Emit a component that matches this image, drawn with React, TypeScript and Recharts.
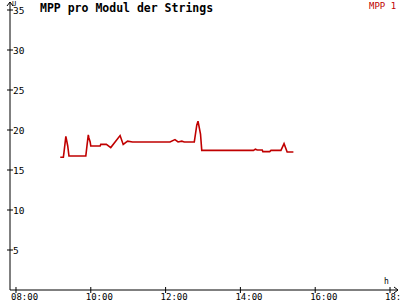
import React from 'react';
import { LineChart, Line, XAxis, YAxis } from 'recharts';

// minutes since midnight
const times = [
  551, 556, 557, 560, 563, 565, 592, 594, 596, 597, 599, 600, 615, 616, 625, 632, 647, 652, 659, 667,
  727, 735, 740, 746, 750, 766, 770, 772, 776, 778, 861, 864, 867, 875, 876, 887, 889, 905, 910, 915, 925,
];
const mppValues = [
  16.6, 16.6, 17.2, 19.2, 18.0, 16.75, 16.75, 18.1, 19.4, 19.0, 18.5, 18.0, 18.0, 18.2, 18.2, 17.8, 19.3, 18.2, 18.6, 18.5,
  18.5, 18.8, 18.5, 18.6, 18.5, 18.5, 20.6, 21.1, 19.5, 17.45, 17.45, 17.6, 17.5, 17.5, 17.3, 17.3, 17.45, 17.45, 18.3, 17.25, 17.25,
];
const xTicks = [480, 600, 720, 840, 960, 1080];
const yTicks = [5, 10, 15, 20, 25, 30, 35];

const data = times.map((t, i) => ({ t, v: mppValues[i] }));

const FONT = '"DejaVu Sans Mono", monospace';
const RED = '#c00000';

const fmt = (m: number) =>
  String(Math.floor(m / 60)).padStart(2, '0') + ':' + String(m % 60).padStart(2, '0');

const YTick = (props: any) => {
  const { x, y, payload } = props;
  return (
    <g>
      <line x1={x - 3} x2={x + 3} y1={y} y2={y} stroke="#000" />
      <text x={x + 3} y={y + 3.5} fontSize={9.5} fontFamily={FONT} fill="#000">
        {payload.value}
      </text>
    </g>
  );
};

const XTick = (props: any) => {
  const { x, y, payload } = props;
  return (
    <g>
      <line x1={x} x2={x} y1={y - 3} y2={y + 3} stroke="#000" />
      <text x={x - 5} y={y + 10} fontSize={9} fontFamily={FONT} fill="#000">
        {fmt(payload.value)}
      </text>
    </g>
  );
};

export default function App() {
  return (
    <div style={{ position: 'fixed', left: 0, top: 0, width: 400, height: 300, background: '#fff' }}>
      <LineChart width={400} height={300} data={data} margin={{ top: 2, right: 2, left: 9, bottom: 9 }}>
        <XAxis
          dataKey="t"
          type="number"
          domain={[470.4, 1092.8]}
          ticks={xTicks}
          height={1}
          tickSize={0}
          tickMargin={0}
          tickLine={false}
          axisLine={{ stroke: '#000' }}
          tick={<XTick />}
          interval={0}
          allowDataOverflow
        />
        <YAxis
          type="number"
          domain={[0, 36]}
          ticks={yTicks}
          width={1}
          tickSize={0}
          tickMargin={0}
          tickLine={false}
          axisLine={{ stroke: '#000' }}
          tick={<YTick />}
          interval={0}
          allowDataOverflow
        />
        <Line
          type="linear"
          dataKey="v"
          stroke={RED}
          strokeWidth={1.6}
          dot={false}
          isAnimationActive={false}
        />
      </LineChart>
      <svg width={400} height={300} style={{ position: 'absolute', left: 0, top: 0, pointerEvents: 'none' }}>
        <polyline points="7,6 10,2 13,6" fill="none" stroke="#000" />
        <polyline points="394,287 398,290 394,293" fill="none" stroke="#000" />
        <text x={40} y={12} fontSize={11.5} fontWeight="bold" fontFamily={FONT} fill="#000">
          MPP pro Modul der Strings
        </text>
        <text x={369} y={9} fontSize={9} fontFamily={FONT} fill={RED}>
          MPP 1
        </text>
        <text x={12} y={6} fontSize={7} fontFamily={FONT} fill="#000">
          U
        </text>
        <text x={384} y={284} fontSize={8} fontFamily={FONT} fill="#000">
          h
        </text>
      </svg>
    </div>
  );
}
